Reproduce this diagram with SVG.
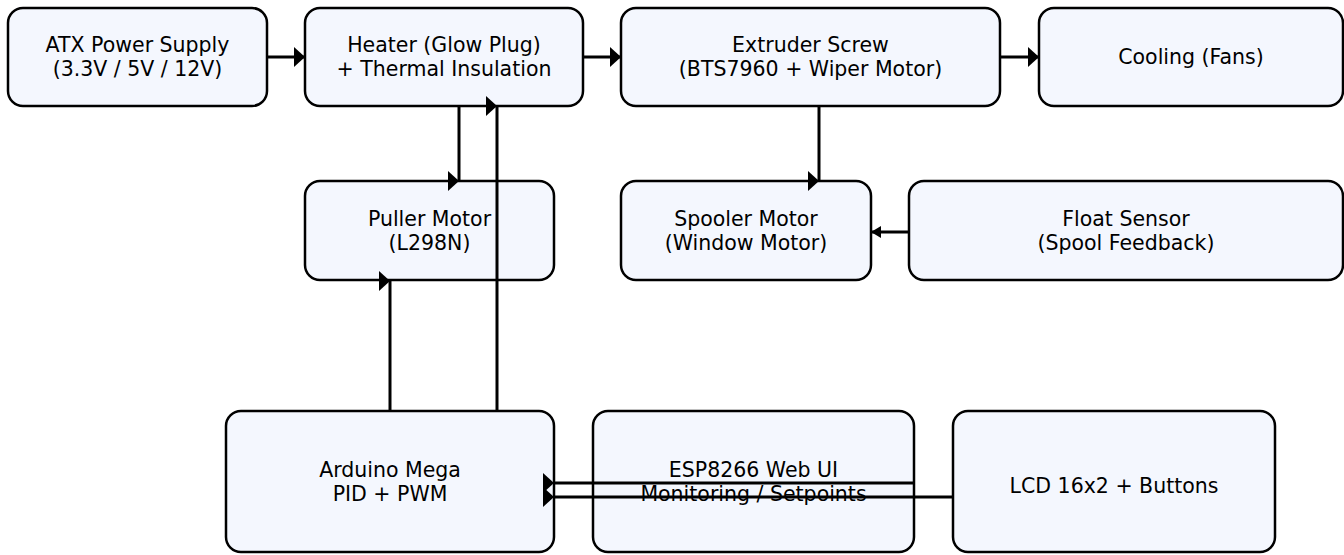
<svg xmlns="http://www.w3.org/2000/svg" width="1344" height="555" viewBox="0 0 1344 555">
<style>
.node rect{fill:#f4f7fe;stroke:#000;stroke-width:2.5}
.node text{font-family:"DejaVu Sans",sans-serif;font-size:20.5px;fill:#000;text-anchor:middle;dominant-baseline:central}
.edges path{fill:none;stroke:#000;stroke-width:3}
</style>
<defs>
<marker id="ah" viewBox="0 0 11 20" refX="11" refY="10" markerWidth="11" markerHeight="20" markerUnits="userSpaceOnUse" orient="0"><path d="M0,0 L11,10 L0,20 z" fill="#000"/></marker>
<marker id="ahl" viewBox="0 0 10 12" refX="0" refY="6" markerWidth="10" markerHeight="12" markerUnits="userSpaceOnUse" orient="0"><path d="M10,0 L0,6 L10,12 z" fill="#000"/></marker>
</defs>
<rect width="1344" height="555" fill="#fff"/>
<g id="atx" class="node"><rect x="8" y="8" width="259" height="98" rx="15"/><text x="137.5" y="45">ATX Power Supply</text><text x="137.5" y="69">(3.3V / 5V / 12V)</text></g>
<g id="heater" class="node"><rect x="305" y="8" width="278" height="98" rx="15"/><text x="444" y="45">Heater (Glow Plug)</text><text x="444" y="69">+ Thermal Insulation</text></g>
<g id="extruder" class="node"><rect x="621" y="8" width="379" height="98" rx="15"/><text x="810.5" y="45">Extruder Screw</text><text x="810.5" y="69">(BTS7960 + Wiper Motor)</text></g>
<g id="cooling" class="node"><rect x="1039" y="8" width="304" height="98" rx="15"/><text x="1191" y="57">Cooling (Fans)</text></g>
<g id="puller" class="node"><rect x="305" y="181" width="249" height="99" rx="15"/><text x="429.5" y="218.5">Puller Motor</text><text x="429.5" y="242.5">(L298N)</text></g>
<g id="spooler" class="node"><rect x="621" y="181" width="250" height="99" rx="15"/><text x="746" y="218.5">Spooler Motor</text><text x="746" y="242.5">(Window Motor)</text></g>
<g id="float" class="node"><rect x="909" y="181" width="434" height="99" rx="15"/><text x="1126" y="218.5">Float Sensor</text><text x="1126" y="242.5">(Spool Feedback)</text></g>
<g id="arduino" class="node"><rect x="226" y="411" width="328" height="141" rx="15"/><text x="390" y="470">Arduino Mega</text><text x="390" y="494">PID + PWM</text></g>
<g id="esp" class="node"><rect x="593" y="411" width="321" height="141" rx="15"/><text x="753.5" y="470">ESP8266 Web UI</text><text x="753.5" y="494">Monitoring / Setpoints</text></g>
<g id="lcd" class="node"><rect x="953" y="411" width="322" height="141" rx="15"/><text x="1114" y="486">LCD 16x2 + Buttons</text></g>
<g id="connectors" class="edges">
<path d="M267,57 H305" marker-end="url(#ah)"/>
<path d="M583,57 H621" marker-end="url(#ah)"/>
<path d="M1000,57 H1039" marker-end="url(#ah)"/>
<path d="M459,106 V181" marker-end="url(#ah)"/>
<path d="M819,106 V181" marker-end="url(#ah)"/>
<path d="M909,232 H871" marker-end="url(#ahl)"/>
<path d="M390,411 V281" marker-end="url(#ah)"/>
<path d="M497,411 V106" marker-end="url(#ah)"/>
<path d="M914,483 H554" marker-end="url(#ah)"/>
<path d="M953,497 H554" marker-end="url(#ah)"/>
</g>
</svg>
